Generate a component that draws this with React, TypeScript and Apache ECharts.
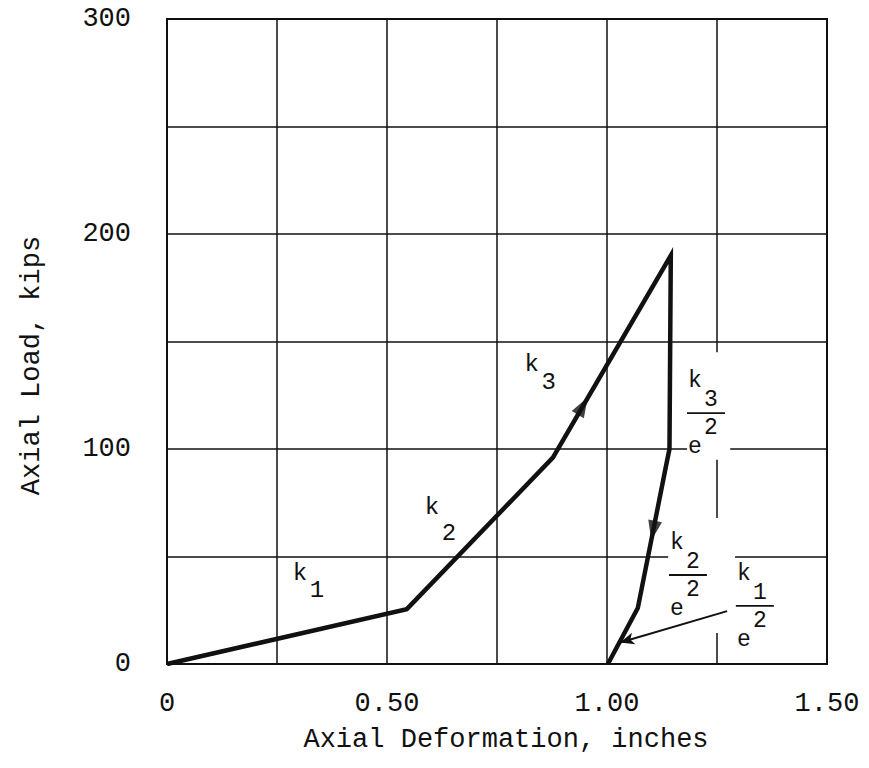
import React, { useEffect, useRef } from "react";
import * as echarts from "echarts";

// Axis ticks (every 0.25 in and 50 kips) and the labels shown at them
const xTickLabels = ["0", "", "0.50", "", "1.00", "", "1.50"];
const yTickLabels = ["0", "", "100", "", "200", "", "300"];

// Load–deformation path: loading branch (k1, k2, k3) then unloading branch
const loadingPath = [
  [0, 0],
  [0.545, 25.5],
  [0.877, 96],
  [1.145, 190],
];
const unloadingPath = [
  [1.142, 100],
  [1.135, 93],
  [1.07, 26],
  [1.002, 0],
];

// Direction arrows sitting on the path
const loadArrow = [0.945, 120];
const unloadArrow = [1.105, 62];

// Leader from the k1/e² label to the path
const leaderFrom = [1.273, 24.6];
const leaderTo = [1.03, 10];

// Stiffness labels on the loading branch
const stiffnessLabels = [
  { sub: "1", at: [0.302, 42.3], drop: 17 },
  { sub: "2", at: [0.602, 72.6], drop: 26 },
  { sub: "3", at: [0.829, 139.3], drop: 18 },
];
// Reduced stiffness labels k/e² on the unloading branch (anchored at the fraction bar)
const reducedLabels = [
  { sub: "3", at: [1.2, 116.7] },
  { sub: "2", at: [1.159, 41.4] },
  { sub: "1", at: [1.311, 27.0] },
];
// Areas where the grid is left blank around the labels
const clearAreas = [
  { from: [1.182, 95], to: [1.28, 145] },
  { from: [1.139, 14.4], to: [1.291, 67.9] },
];

const FONT = "'Liberation Mono', 'DejaVu Sans Mono', monospace";
const INK = "#111";

export default function App() {
  const ref = useRef<HTMLDivElement>(null);

  useEffect(() => {
    if (!ref.current) return;
    const chart = echarts.init(ref.current, undefined, { renderer: "svg" });

    const path = [...loadingPath, ...unloadingPath];

    chart.setOption({
      animation: false,
      backgroundColor: "#fff",
      grid: {
        left: 167,
        right: 42,
        top: 19,
        bottom: 104,
        show: true,
        borderColor: INK,
        borderWidth: 2,
        backgroundColor: "transparent",
      },
      xAxis: {
        type: "value",
        min: 0,
        max: 1.5,
        interval: 0.25,
        name: "Axial Deformation, inches",
        nameLocation: "middle",
        nameGap: 62,
        nameTextStyle: {
          fontFamily: FONT,
          fontSize: 27,
          color: INK,
          padding: [0, 0, 0, 18],
        },
        axisLine: { show: false },
        axisTick: { show: false },
        axisLabel: {
          margin: 26,
          fontFamily: FONT,
          fontSize: 27,
          color: INK,
          formatter: (v: number) => xTickLabels[Math.round(v / 0.25)] ?? "",
        },
        splitLine: { show: true, lineStyle: { color: INK, width: 1.5 } },
      },
      yAxis: {
        type: "value",
        min: 0,
        max: 300,
        interval: 50,
        name: "Axial Load, kips",
        nameLocation: "middle",
        nameRotate: 90,
        nameGap: 122,
        nameTextStyle: {
          fontFamily: FONT,
          fontSize: 27,
          color: INK,
          padding: [0, 48, 0, 0],
        },
        axisLine: { show: false },
        axisTick: { show: false },
        axisLabel: {
          margin: 36,
          fontFamily: FONT,
          fontSize: 27,
          color: INK,
          formatter: (v: number) => yTickLabels[Math.round(v / 50)] ?? "",
        },
        splitLine: { show: true, lineStyle: { color: INK, width: 1.5 } },
      },
      series: [
        {
          type: "line",
          data: path,
          symbol: "none",
          z: 3,
          lineStyle: { color: INK, width: 4.5, join: "miter" },
        },
        {
          type: "line",
          data: [],
          z: 4,
          markLine: {
            silent: true,
            symbol: ["none", "arrow"],
            symbolSize: [9, 14],
            label: { show: false },
            lineStyle: { color: INK, width: 2, type: "solid" },
            data: [[{ coord: leaderFrom }, { coord: leaderTo }]],
          },
        },
      ],
    });

    const px = (p: number[]) =>
      chart.convertToPixel({ gridIndex: 0 }, p) as number[];

    // Rotation so a triangle points along a segment (in screen space)
    const heading = (a: number[], b: number[]) => {
      const pa = px(a);
      const pb = px(b);
      const theta = (Math.atan2(-(pb[1] - pa[1]), pb[0] - pa[0]) * 180) / Math.PI;
      return theta - 90;
    };

    const loadRot = heading(loadingPath[2], loadingPath[3]);
    const unloadRot = heading(unloadingPath[1], unloadingPath[2]);

    const txt = (t: string, x: number, y: number, size = 24) => ({
      type: "text",
      x,
      y,
      z: 10,
      style: {
        text: t,
        fontFamily: FONT,
        fontSize: size,
        fill: INK,
        align: "center",
        verticalAlign: "middle",
      },
    });

    const graphics: any[] = [];

    clearAreas.forEach((a) => {
      const p0 = px(a.from);
      const p1 = px(a.to);
      graphics.push({
        type: "rect",
        z: 1,
        shape: {
          x: Math.min(p0[0], p1[0]),
          y: Math.min(p0[1], p1[1]),
          width: Math.abs(p1[0] - p0[0]),
          height: Math.abs(p1[1] - p0[1]),
        },
        style: { fill: "#fff" },
      });
    });

    stiffnessLabels.forEach((l) => {
      const [x, y] = px(l.at);
      graphics.push(txt("k", x, y));
      graphics.push(txt(l.sub, x + 17, y + l.drop));
    });

    reducedLabels.forEach((l) => {
      const [x, y] = px(l.at);
      graphics.push(txt("k", x, y - 32, 23));
      graphics.push(txt(l.sub, x + 16, y - 13, 23));
      graphics.push({
        type: "line",
        z: 10,
        shape: { x1: x - 8, y1: y, x2: x + 30, y2: y },
        style: { stroke: INK, lineWidth: 1.8 },
      });
      graphics.push(txt("2", x + 16, y + 15, 23));
      graphics.push(txt("e", x, y + 34, 23));
    });

    chart.setOption({
      graphic: graphics,
      series: [
        {},
        {},
        {
          type: "scatter",
          z: 5,
          symbol: "triangle",
          symbolSize: [14, 20],
          itemStyle: { color: INK },
          data: [
            { value: loadArrow, symbolRotate: loadRot },
            { value: unloadArrow, symbolRotate: unloadRot },
          ],
        },
      ],
    });

    return () => chart.dispose();
  }, []);

  return (
    <div
      ref={ref}
      style={{ position: "fixed", left: 0, top: 0, width: 869, height: 768 }}
    />
  );
}
